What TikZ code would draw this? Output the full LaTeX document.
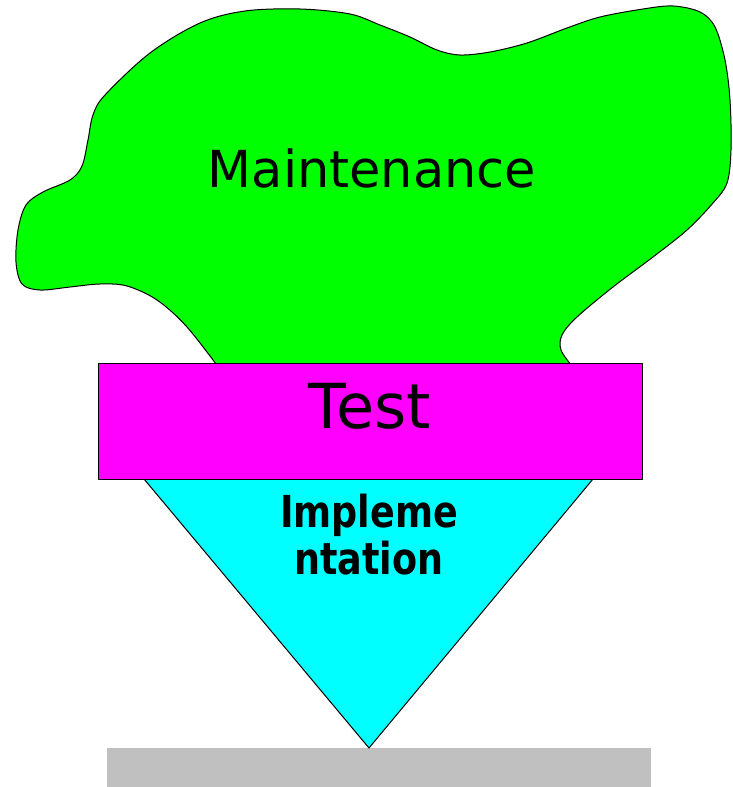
\documentclass[tikz,border=0pt]{standalone}
\usepackage{fontspec}
\setmainfont{DejaVu Sans}
\newfontfamily\implfont[FakeStretch=0.83]{DejaVu Sans Bold}
\begin{document}
\begin{tikzpicture}[x=1pt,y=-1pt,
  outline/.style={draw=black,line width=1pt,line join=round},
  label/.style={inner sep=0pt,anchor=base,text=black}]
\useasboundingbox (0,0) rectangle (733,787);

% ground bar
\fill[fill={rgb,255:red,192;green,192;blue,192}] (107,748) rectangle (651,787);

% maintenance cloud
\path[outline,fill={rgb,255:red,0;green,255;blue,0}]
  plot[smooth,tension=0.55] coordinates {
    (222,372) (187,327) (157,300) (127,286) (100,284) (70,287) (40,290)
    (22,284) (16,262) (18,230) (26,205) (43,192) (70,180) (82,166)
    (88,140) (93,115) (105,95) (150,53) (200,23) (245,11) (300,9)
    (350,14) (380,25) (410,37) (437,50) (460,55) (490,52) (527,43)
    (567,28) (600,17) (643,9) (673,6) (700,12) (715,27) (725,60)
    (730,100) (731,150) (727,183) (713,203) (687,230) (653,257)
    (613,287) (577,317) (562,335) (561,350) (572,366)}
  -- (572,400) -- (222,400) -- cycle;

% implementation wedge
\path[outline,fill={rgb,255:red,0;green,255;blue,255}]
  (144,479) -- (593,479) -- (369,748) -- cycle;

% test layer
\path[outline,fill={rgb,255:red,255;green,0;blue,255}]
  (98,363) rectangle (642,479);

\node[label] (maint) at (372,187) {\fontsize{51}{60}\selectfont Maintenance};
\node[label] (test) at (370,428) {\fontsize{62}{70}\selectfont Test};
\node[label] (impl1) at (369,527) {\implfont\fontsize{44}{47}\selectfont Impleme};
\node[label] (impl2) at (369,574) {\implfont\fontsize{44}{47}\selectfont ntation};
\end{tikzpicture}
\end{document}
